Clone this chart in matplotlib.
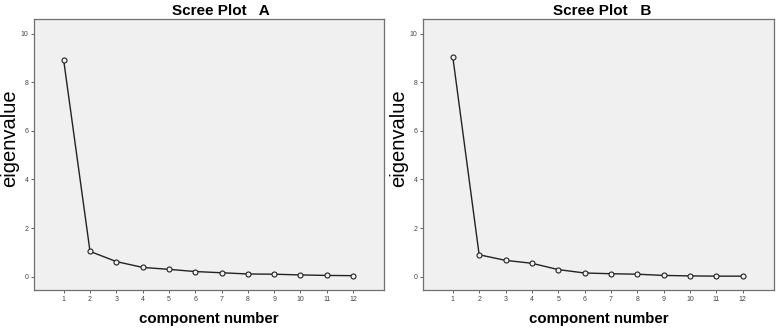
import matplotlib
matplotlib.use("Agg")
import matplotlib.pyplot as plt

plt.rcParams['font.family'] = ['Liberation Sans', 'DejaVu Sans']

components = list(range(1, 13))
eig_a = [8.90, 1.04, 0.62, 0.38, 0.30, 0.21, 0.16, 0.11, 0.10, 0.07, 0.05, 0.04]
eig_b = [9.05, 0.90, 0.67, 0.55, 0.29, 0.15, 0.12, 0.10, 0.05, 0.03, 0.02, 0.02]
titles = ["Scree Plot   A", "Scree Plot   B"]
yticks = [0, 2, 4, 6, 8, 10]

fig = plt.figure(figsize=(7.81, 3.32), dpi=100)
positions = [[0.0435, 0.1265, 0.448, 0.816], [0.5416, 0.1265, 0.449, 0.816]]
title_x = [0.534, 0.51]

for pos, vals, title, tx in zip(positions, [eig_a, eig_b], titles, title_x):
    ax = fig.add_axes(pos)
    ax.set_facecolor('#f0f0f0')
    ax.plot(components, vals, color='#222222', lw=1.0, marker='o', ms=3.6,
            mfc='#f0f0f0', mec='#222222', mew=0.8)
    ax.set_xlim(-0.13, 13.17)
    ax.set_ylim(-0.55, 10.6)
    ax.set_xticks(components)
    ax.set_yticks(yticks)
    ax.tick_params(labelsize=5, length=2, width=0.6, colors='#444444', pad=2)
    for s in ax.spines.values():
        s.set_color('#707070')
        s.set_linewidth(0.9)
    ax.set_title(title, fontsize=11, fontweight='bold', pad=3, x=tx)
    ax.set_xlabel('component number', fontsize=10.8, fontweight='bold', labelpad=7)
    ax.set_ylabel('eigenvalue', fontsize=14.5)
    ax.yaxis.set_label_coords(-0.042, 0.559)

fig.savefig('out.png', dpi=100)
